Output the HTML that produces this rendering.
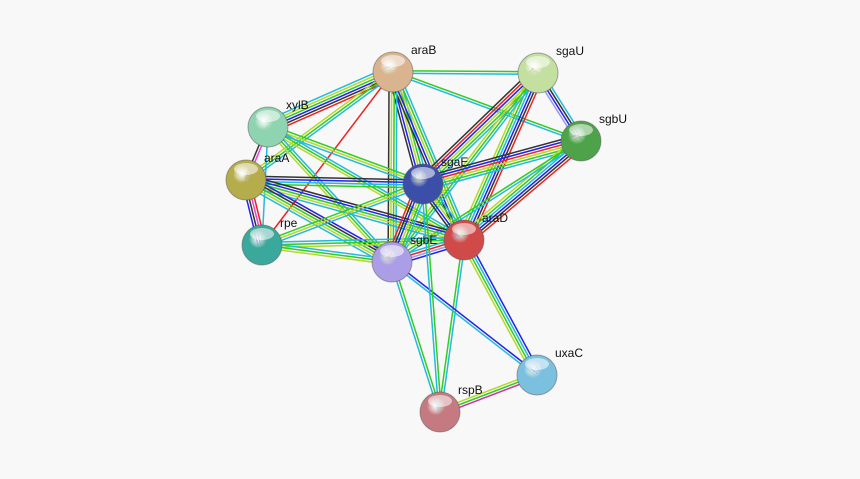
<!DOCTYPE html>
<html><head><meta charset="utf-8"><style>
html,body{margin:0;padding:0;background:#f8f8f8;}
svg{display:block;}
text{font-family:"Liberation Sans",sans-serif;font-size:12px;fill:#111;}
</style></head><body>
<svg id="s" width="860" height="479" viewBox="0 0 860 479" xmlns="http://www.w3.org/2000/svg">
<defs id="d"></defs>
<rect width="860" height="479" fill="#f8f8f8"/>
<g id="e"></g><g id="n"></g>
</svg>
<script>
var N={araB:[393,72,"#d9b48f"],sgaU:[538,73,"#c4e0a0"],sgbU:[581,141,"#4ea34a"],xylB:[268,127,"#8fd4b0"],araA:[246,180,"#b5ac4c"],sgaE:[423,184,"#3b4fa8"],araD:[464,240,"#d04a4a"],rpe:[262,245,"#3aa89a"],sgbE:[392,262,"#ab9de6"],uxaC:[537,375,"#7cc0e0"],rspB:[440,412,"#c47a80"]};
var C={g:"#33cc22",c:"#22bbdd",y:"#b5d92a",b:"#2222ee",k:"#333333",r:"#ee2222",p:"#ee44cc",l:"#9999ee",m:"#cc33aa"};
var E=[["araB","sgaU","gc"],["araB","sgbU","gc"],["araB","sgaE","cgybk"],["araB","araD","cgybk"],["araB","sgbE","cgyk"],["araB","xylB","rkbgyc"],["araB","araA","cgy"],["araB","rpe","r"],
["sgaU","sgbU","ckbl"],["sgaU","sgaE","cgybrk"],["sgaU","araD","rkbcgy"],["sgaU","sgbE","cgy"],
["sgbU","sgaE","cgyrbk"],["sgbU","araD","rkbcgy"],["sgbU","sgbE","cg"],
["xylB","araA","pk"],["xylB","sgaE","gyc"],["xylB","araD","cgy"],["xylB","sgbE","cgy"],["xylB","rpe","c"],
["araA","sgaE","kbcg"],["araA","araD","kbgyc"],["araA","sgbE","bkgyc"],["araA","rpe","rpkb"],
["rpe","sgaE","gyc"],["rpe","araD","cgy"],["rpe","sgbE","cgy"],
["sgaE","araD","cgybk"],["sgaE","sgbE","cgybkr"],["araD","sgbE","blrc"],
["araD","uxaC","bcgy"],["araD","rspB","cg"],["sgbE","uxaC","bc"],["sgbE","rspB","gc"],["uxaC","rspB","mgy"],["sgaE","rspB","gc"]];
var ns="http://www.w3.org/2000/svg",eg=document.getElementById("e"),ng=document.getElementById("n"),d=document.getElementById("d");
E.forEach(function(x){var a=N[x[0]],b=N[x[1]],dx=b[0]-a[0],dy=b[1]-a[1],L=Math.hypot(dx,dy),px=-dy/L,py=dx/L,k=x[2].length;
for(var i=0;i<k;i++){var o=(i-(k-1)/2)*2.6,l=document.createElementNS(ns,"line");
l.setAttribute("x1",a[0]+px*o);l.setAttribute("y1",a[1]+py*o);l.setAttribute("x2",b[0]+px*o);l.setAttribute("y2",b[1]+py*o);
l.setAttribute("stroke",C[x[2][i]]);l.setAttribute("stroke-width","1.5");eg.appendChild(l);}});
var i=0;for(var k in N){var v=N[k];i++;
d.innerHTML+='<radialGradient id="g'+i+'" cx="40%" cy="35%" r="65%"><stop offset="0" stop-color="#fff" stop-opacity=".7"/><stop offset=".35" stop-color="'+v[2]+'"/><stop offset="1" stop-color="'+v[2]+'" stop-opacity="1"/></radialGradient>';
ng.innerHTML+='<circle cx="'+v[0]+'" cy="'+v[1]+'" r="20" fill="url(#g'+i+')" stroke="#555" stroke-opacity=".5" stroke-width="1"/><ellipse cx="'+v[0]+'" cy="'+(v[1]-11)+'" rx="12" ry="6" fill="#fff" opacity=".55"/>'+
'<text x="'+(v[0]+18)+'" y="'+(v[1]-18)+'">'+k+'</text>';}
</script>
</body></html>
